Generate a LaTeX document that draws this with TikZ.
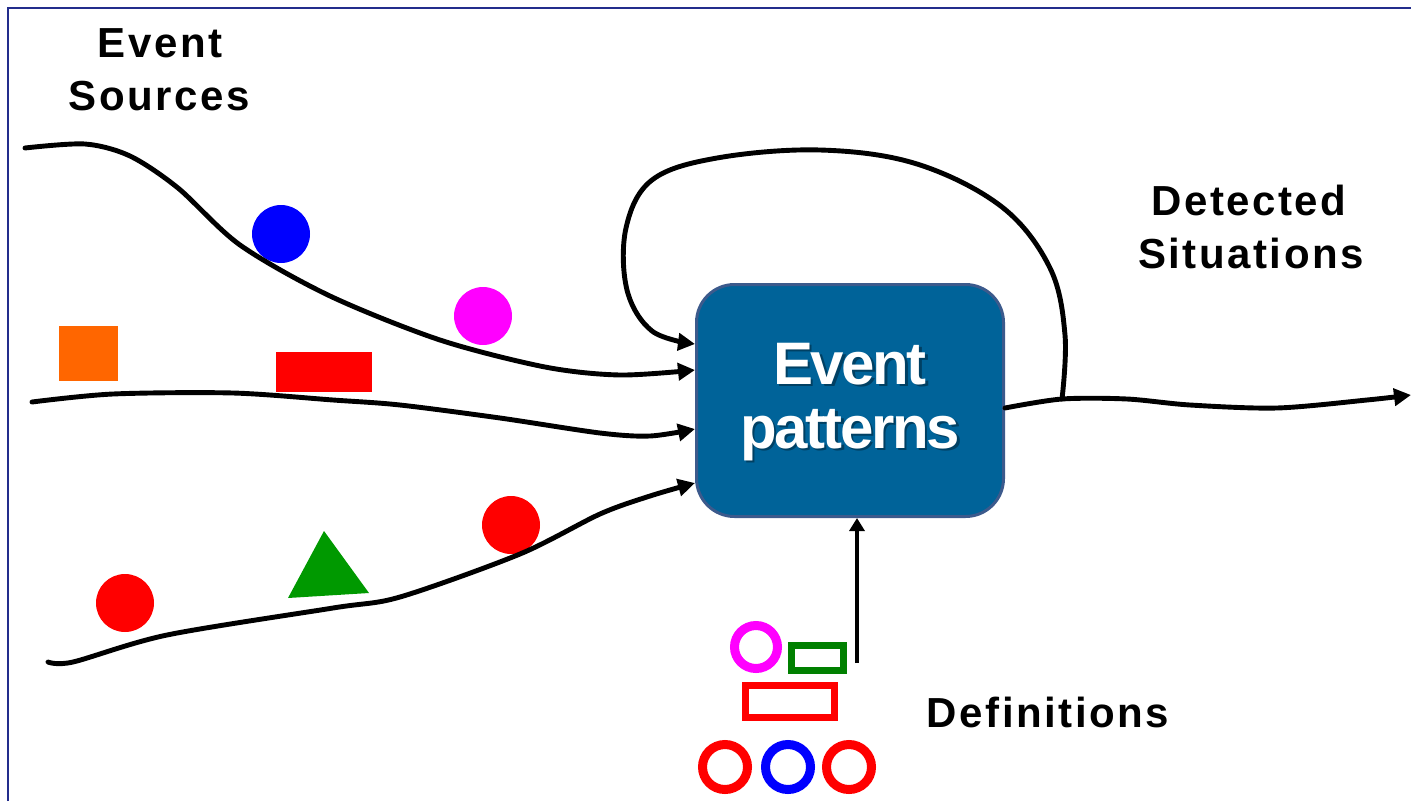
\documentclass[tikz,border=0pt]{standalone}
\usepackage{fontspec}
\setmainfont{Liberation Sans}
\newfontfamily\lblfont[LetterSpace=6]{Liberation Sans}
\newfontfamily\boxfont[LetterSpace=-4]{Liberation Sans}
\usetikzlibrary{arrows.meta}

\definecolor{framenavy}{RGB}{35,45,140}
\definecolor{procfill}{RGB}{0,99,153}
\definecolor{procedge}{RGB}{60,90,140}
\definecolor{evorange}{RGB}{255,102,0}
\definecolor{evgreen}{RGB}{0,153,0}
\definecolor{defgreen}{RGB}{0,128,0}
\definecolor{evmagenta}{RGB}{255,0,255}
\definecolor{evblue}{RGB}{0,0,255}
\definecolor{evred}{RGB}{255,0,0}

\begin{document}
\begin{tikzpicture}[x=1pt,y=-1pt,
  wire/.style={line width=4.9pt, black, line join=round, line cap=round},
  flow/.style={wire, -{Triangle[length=17pt,width=17pt]}},
  lbl/.style={font=\lblfont\bfseries\fontsize{42}{50}\selectfont, anchor=base, inner sep=0},
  procbox/.style={draw=procedge, fill=procfill, line width=3pt, rounded corners=38,
    minimum width=307, minimum height=232, inner sep=0},
  boxtext/.style={font=\boxfont\bfseries\fontsize{60}{64}\selectfont, align=center,
    inner sep=0, anchor=north},
  dot/.style={circle, inner sep=0, minimum size=58},
  ring/.style={circle, draw, line width=9pt, inner sep=0, minimum size=45},
  frame/.style={rectangle, draw, inner sep=0, line width=7pt}
]
\useasboundingbox (0,0) rectangle (1411,801);

% page frame (top and left edges)
\draw[framenavy, line width=2.5pt] (8,801) -- (8,8) -- (1411,8);

% labels
\node[lbl] (srcA) at (160,57) {Event};
\node[lbl] (srcB) at (159,110) {Sources};
\node[lbl] (detA) at (1249,215) {Detected};
\node[lbl] (detB) at (1251,268) {Situations};
\node[lbl] (defs) at (1048,727) {Definitions};

% processing box
\node[procbox] (box) at (850,400.5) {};
\node[boxtext, text=black, opacity=0.35] (boxshade) at (852.5,345.5) {Event\\patterns};
\node[boxtext, text=white] (boxlbl) at (850,343.5) {Event\\patterns};

% incoming events
\node[dot, fill=evblue] (ev1) at (281,234) {};
\node[dot, fill=evmagenta] (ev2) at (483,316) {};
\fill[evorange] (59,326) rectangle (118,381);
\fill[evred] (276,352) rectangle (372,392);
\node[dot, fill=evred] (ev3) at (125,603) {};
\fill[evgreen] (324,531) -- (288,598) -- (369,593) -- cycle;
\node[dot, fill=evred] (ev4) at (511,525) {};

% stream start points and box inputs
\coordinate (s1) at (25,148);
\coordinate (s2) at (32,402);
\coordinate (s3) at (48,662);
\coordinate (in0) at (box.west |- 0,344);
\coordinate (in1) at (box.west |- 0,370);
\coordinate (in2) at (box.west |- 0,429);
\coordinate (in3) at (box.west |- 0,483);
\coordinate (out0) at (box.east |- 0,408);
\coordinate (outend) at (1411,395);
\coordinate (join) at (1062,399);

% event streams
\draw[flow] plot[smooth, tension=0.5] coordinates {(s1) (85,144) (130,156) (178,188) (240,245) (330,296) (440,340) (545,367) (620,375) (in1)};
\draw[flow] plot[smooth, tension=0.5] coordinates {(s2) (113,394) (233,393) (333,400) (400,405) (500,418) (600,433) (650,436) (in2)};
\draw[flow] plot[smooth, tension=0.5] coordinates {(s3) (73,662) (167,635) (333,608) (400,597) (520,554) (600,514) (650,496) (in3)};

% output stream
\draw[flow] plot[smooth, tension=0.5] coordinates {(out0) (join) (1127,399) (1190,405) (1277,408) (1367,400) (outend)};

% feedback loop
\draw[flow] plot[smooth, tension=0.6] coordinates {(join) (1065,335) (1050,268) (1002,207) (917,164) (820,150) (717,158) (652,180) (626,228) (627,290) (652,331) (in0)};

% definitions
\node[ring, draw=evmagenta, minimum size=43] (d1) at (756,647) {};
\node[frame, draw=defgreen, minimum width=51.5, minimum height=24.5] (d2) at (817.5,658) {};
\node[frame, draw=evred, minimum width=89.3, minimum height=32.3] (d3) at (790.2,701.4) {};
\node[ring, draw=evred] (d4) at (725,767) {};
\node[ring, draw=evblue] (d5) at (788,767) {};
\node[ring, draw=evred] (d6) at (849,767) {};

\coordinate (defsrc) at (857,663);
\draw[line width=4pt, -{Triangle[length=13pt,width=15pt]}] (defsrc) -- (defsrc |- box.south);
\end{tikzpicture}
\end{document}
